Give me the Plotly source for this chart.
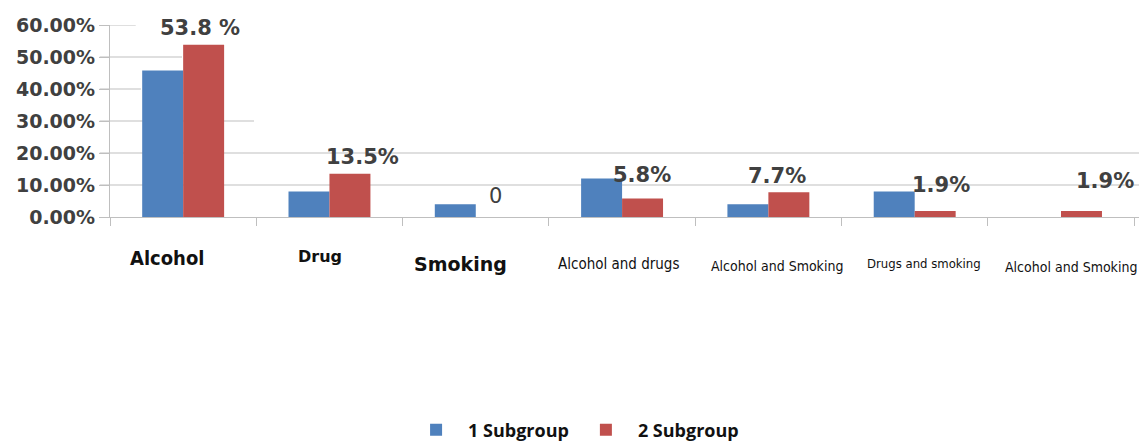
import plotly.graph_objects as go

# Categories and subgroup percentages
categories = ["Alcohol", "Drug", "Smoking", "Alcohol and drugs",
              "Alcohol and Smoking", "Drugs and smoking", "Alcohol and Smoking "]
subgroup1 = [45.8, 8.0, 4.0, 12.0, 4.0, 8.0, 0.0]
subgroup2 = [53.8, 13.5, 0.0, 5.8, 7.7, 1.9, 1.9]
value_labels = ["53.8 %", "13.5%", "0", "5.8%", "7.7%", "1.9%", "1.9%"]
y_ticks = [0, 10, 20, 30, 40, 50, 60]
y_tick_labels = ["0.00%", "10.00%", "20.00%", "30.00%", "40.00%", "50.00%", "60.00%"]

BLUE = "#4F81BD"
RED = "#C0504D"
GRID = "#bfbfbf"
TEXT = "#404040"
NARROW = "DejaVu Sans Condensed"

# per-category label styling: (font family, size, x shift, y shift, bold)
cat_style = [
    (NARROW, 20, -16, -41, True),
    ("DejaVu Sans", 16, -9, -39, True),
    ("DejaVu Sans", 19, -15, -47, True),
    (NARROW, 15, -4, -47, False),
    (NARROW, 14, 9, -49, False),
    (NARROW, 13, 9, -46, False),
    (NARROW, 14, 10, -50, False),
]
# value label offsets from the category centre / value (pixels), weight
val_style = [(17, 17, "bold"), (33, 17, "bold"), (20, 21, "normal"), (20, 23, "bold"),
             (9, 16, "bold"), (26, 26, "bold"), (44, 30, "bold")]
# how far each grid line reaches across the plot (fraction of width)
grid_reach = {10: 1.0, 20: 1.0, 30: 0.14, 40: 0.03, 50: 0.07, 60: 0.025}

fig = go.Figure()
fig.add_trace(go.Bar(x=categories, y=subgroup1, name="<b>1 Subgroup</b>",
                     marker=dict(color=BLUE, line=dict(width=0))))
fig.add_trace(go.Bar(x=categories, y=subgroup2, name="<b>2 Subgroup</b>",
                     marker=dict(color=RED, line=dict(width=0))))

for t in y_ticks[1:]:
    fig.add_shape(type="line", xref="paper", yref="y", x0=-0.01, x1=grid_reach[t],
                  y0=t, y1=t, line=dict(color=GRID, width=1.2), layer="below")

for i, c in enumerate(categories):
    fam, size, dx, dy, bold = cat_style[i]
    txt = f"<b>{c.strip()}</b>" if bold else c.strip()
    fig.add_annotation(x=c, y=0, xref="x", yref="y", text=txt, showarrow=False,
                       xshift=dx, yshift=dy, yanchor="middle",
                       font=dict(family=fam, size=size, color="#111111"))

for i, c in enumerate(categories):
    dx, dy, w = val_style[i]
    fig.add_annotation(x=c, y=subgroup2[i], xref="x", yref="y",
                       text=value_labels[i],
                       showarrow=False, xshift=dx, yshift=dy, yanchor="middle",
                       font=dict(family="DejaVu Sans", size=21, color=TEXT, weight=w))

fig.update_layout(
    width=1145, height=441,
    margin=dict(l=110, r=6, t=25, b=224, autoexpand=False),
    paper_bgcolor="white", plot_bgcolor="white",
    barmode="group", bargap=0.44, bargroupgap=0,
    showlegend=True,
    legend=dict(orientation="h", x=0.451, xanchor="center", y=-1.11, yanchor="middle",
                font=dict(family="Open Sans", size=18, color="#111111"),
                itemwidth=54, traceorder="normal"),
    xaxis=dict(showticklabels=False, showline=True, linecolor=GRID, linewidth=1.2,
               ticks="outside", tickson="boundaries", ticklen=8, tickcolor=GRID,
               showgrid=False),
    yaxis=dict(range=[0, 60], tickvals=y_ticks, ticktext=y_tick_labels,
               showgrid=False, showline=True, linecolor=GRID, linewidth=1.2,
               ticks="outside", ticklen=10, tickcolor=GRID, zeroline=False,
               tickfont=dict(family="DejaVu Sans", size=19, color=TEXT, weight="bold")),
)

fig.write_html("out.html")
